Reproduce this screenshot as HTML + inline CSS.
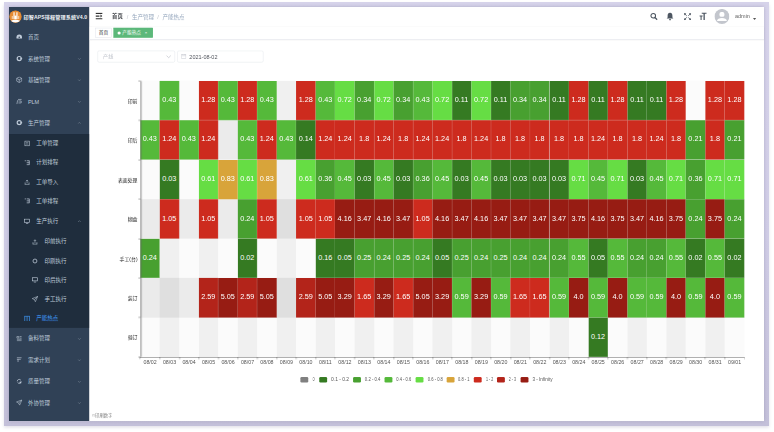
<!DOCTYPE html>
<html lang="zh-CN"><head><meta charset="utf-8"><title>产能热点</title>
<style>
html,body{margin:0;padding:0;background:#fff;}
body{width:774px;height:432px;overflow:hidden;position:relative;font-family:"Liberation Sans","Noto Sans CJK SC",sans-serif;}
#frame{position:absolute;left:4.1px;top:2.2px;width:764.8px;height:423.6px;background:linear-gradient(180deg,#d6d3ea 0%,#cfcce5 55%,#c3c0d9 100%);box-shadow:0 1.5px 3px rgba(120,115,150,.22);filter:blur(0.5px);}
#stage{position:absolute;left:8.75px;top:7.0px;width:1920px;height:1053px;transform:scale(0.39323);transform-origin:0 0;background:#fff;overflow:hidden;color:#303133;font-size:14px;box-shadow:0 0 9px rgba(75,70,105,.36);}
#stage *{box-sizing:border-box;}
#soft{position:absolute;left:0;top:0;width:774px;height:432px;filter:blur(0.4px);}
.abs{position:absolute;}
#side{position:absolute;left:0;top:0;width:203.5px;overflow:hidden;height:1053px;background:#304156;}
#logo{position:absolute;left:0;top:0;width:205px;height:50px;background:#304156;}
#logo .img{position:absolute;left:0.5px;top:9px;width:31px;height:31px;border-radius:50%;background:#e58a32;overflow:hidden;}
#logo .t{position:absolute;left:37px;top:0;line-height:53.5px;color:#eef1f5;font-weight:bold;font-size:13px;white-space:nowrap;letter-spacing:0.3px;}
.mi{position:absolute;left:0;width:205px;color:#bfcbd9;font-size:14px;white-space:nowrap;}
.mi .ic{position:absolute;top:50%;width:16px;height:16px;margin-top:-8px;}
.mi .tx{position:absolute;top:0;}
.mi .ch{position:absolute;right:21px;top:50%;width:10px;height:10px;margin-top:-5px;}
.l1{height:54.5px;line-height:54.5px;}
.l1 .ic{left:17.5px;margin-top:-9px;} .l1 .tx{left:48px;}
.l2{height:49.1px;line-height:49.1px;}
.l2 .ic{left:38px;} .l2 .tx{left:69px;}
.l3{height:49.1px;line-height:49.1px;}
.l3 .ic{left:58px;} .l3 .tx{left:90px;}
#sub{position:absolute;left:0;width:205px;background:#1f2d3d;}
.act{color:#409eff;}
#nav{position:absolute;left:205px;top:0;width:1715px;height:50px;background:#fff;box-shadow:0 1px 4px rgba(0,21,41,.08);}
#tags{position:absolute;left:205px;top:50px;width:1715px;height:33.5px;background:#fff;border-bottom:1px solid #cdd1dc;box-shadow:0 1px 3px 0 rgba(0,0,0,.14),0 0 3px 0 rgba(0,0,0,.04);}
.tag{position:absolute;top:2.9px;height:25.6px;line-height:23.6px;border:1px solid #d8dce5;color:#2b2f36;background:#fff;padding:0 8px;font-size:12px;white-space:nowrap;}
.tag.on{background:#5cb87a;color:#fff;border-color:#5cb87a;}
.bc{position:absolute;top:0;line-height:50px;font-size:14px;white-space:nowrap;}
.inp{position:absolute;height:30.5px;border:1px solid #dcdfe6;border-radius:4px;background:#fff;font-size:13px;line-height:28.5px;color:#606266;white-space:nowrap;}
.cell{position:absolute;color:#fff;font-size:18.5px;text-align:center;white-space:nowrap;overflow:hidden;border-right:1px solid rgba(255,255,255,.25);border-bottom:1px solid rgba(255,255,255,.25);}
.band{position:absolute;}
.yl{position:absolute;text-align:right;font-size:12.5px;color:#222;white-space:nowrap;width:120px;}
.xl{position:absolute;text-align:center;font-size:13.4px;color:#555;white-space:nowrap;}
.lg{position:absolute;height:14px;width:20px;border-radius:3px;}
.lt{position:absolute;font-size:12px;color:#333;white-space:nowrap;line-height:14px;}
</style></head><body>
<div id="frame"></div>
<div id="soft">
<div id="stage">
<div id="side">
<div id="logo"><div class="img"><svg width="31" height="31" viewBox="0 0 36 36"><circle cx="18" cy="18" r="18" fill="#e58a32"/><path d="M3 31 Q18 22 33 31 L33 36 L3 36 Z" fill="#fff"/><rect x="12" y="5" width="3.4" height="20" fill="#fff"/><rect x="20.6" y="5" width="3.4" height="20" fill="#fff"/><rect x="15" y="15" width="6" height="10" fill="#fff"/><rect x="7" y="16" width="3" height="9" fill="#f7d9b5"/><rect x="26" y="16" width="3" height="9" fill="#f7d9b5"/></svg></div><div class="t">印智APS排程管理系统V4.0</div></div>
<div class="mi l1" style="top:50.00px;height:54.50px;line-height:54.50px"><svg class="ic" viewBox="0 0 16 16"><path d="M1 9 A7 7 0 0 1 15 9 L15 12 L1 12 Z" fill="#bfcbd9"/><circle cx="8" cy="9" r="2" fill="#304156"/></svg><span class="tx">首页</span></div>
<div class="mi l1" style="top:104.50px;height:54.50px;line-height:54.50px"><svg class="ic" viewBox="0 0 16 16"><circle cx="8" cy="8" r="5.2" fill="none" stroke="#bfcbd9" stroke-width="3"/><rect x="11" y="6.5" width="5" height="3" fill="#bfcbd9"/></svg><span class="tx">系统管理</span><svg class="ch" viewBox="0 0 10 10"><path d="M1.5 3.2 L5 6.8 L8.5 3.2" fill="none" stroke="#8b97a6" stroke-width="1.1"/></svg></div>
<div class="mi l1" style="top:159.00px;height:54.50px;line-height:54.50px"><svg class="ic" viewBox="0 0 16 16"><path d="M8 1 L14.5 4.5 L14.5 11.5 L8 15 L1.5 11.5 L1.5 4.5 Z M1.5 4.5 L8 8 L14.5 4.5 M8 8 L8 15" fill="none" stroke="#bfcbd9" stroke-width="1.5"/></svg><span class="tx">基础管理</span><svg class="ch" viewBox="0 0 10 10"><path d="M1.5 3.2 L5 6.8 L8.5 3.2" fill="none" stroke="#8b97a6" stroke-width="1.1"/></svg></div>
<div class="mi l1" style="top:213.50px;height:54.50px;line-height:54.50px"><svg class="ic" viewBox="0 0 16 16"><path d="M2 15 L4 5 M5 3 L14 3 M6 7 L13 7 L13 12 L6 12" fill="none" stroke="#bfcbd9" stroke-width="1.6"/></svg><span class="tx">PLM</span><svg class="ch" viewBox="0 0 10 10"><path d="M1.5 3.2 L5 6.8 L8.5 3.2" fill="none" stroke="#8b97a6" stroke-width="1.1"/></svg></div>
<div class="mi l1" style="top:268.00px;height:54.50px;line-height:54.50px"><svg class="ic" viewBox="0 0 16 16"><circle cx="8" cy="8" r="5.2" fill="none" stroke="#bfcbd9" stroke-width="3"/><rect x="11" y="6.5" width="5" height="3" fill="#bfcbd9"/></svg><span class="tx">生产管理</span><svg class="ch" viewBox="0 0 10 10"><path d="M1.5 6.8 L5 3.2 L8.5 6.8" fill="none" stroke="#8b97a6" stroke-width="1.1"/></svg></div>
<div id="sub" style="top:322.50px;height:493.97px"></div>
<div class="mi l2" style="top:322.50px;height:48.83px;line-height:48.83px"><svg class="ic" viewBox="0 0 16 16"><rect x="2.5" y="2" width="11" height="12" fill="none" stroke="#bfcbd9" stroke-width="1.5"/><path d="M5 6 H11 M5 9.5 H11" stroke="#bfcbd9" stroke-width="1.3"/></svg><span class="tx">工单管理</span></div>
<div class="mi l2" style="top:371.33px;height:48.83px;line-height:48.83px"><svg class="ic" viewBox="0 0 16 16"><path d="M2 3 H5 M7 3 H14 M7 8 H14 M7 13 H14 M13.5 3 V13" fill="none" stroke="#bfcbd9" stroke-width="1.8"/></svg><span class="tx">计划排程</span></div>
<div class="mi l2" style="top:420.16px;height:48.83px;line-height:48.83px"><svg class="ic" viewBox="0 0 16 16"><path d="M2 14 H14 M3 14 V9 M13 14 V9 M8 11 V3 M5 6 L8 3 L11 6" fill="none" stroke="#bfcbd9" stroke-width="1.4"/></svg><span class="tx">工单导入</span></div>
<div class="mi l2" style="top:468.99px;height:48.83px;line-height:48.83px"><svg class="ic" viewBox="0 0 16 16"><path d="M2 3 H5 M7 3 H14 M7 8 H14 M7 13 H14 M13.5 3 V13" fill="none" stroke="#bfcbd9" stroke-width="1.8"/></svg><span class="tx">工单排程</span></div>
<div class="mi l2" style="top:517.82px;height:54.50px;line-height:54.50px"><svg class="ic" viewBox="0 0 16 16"><rect x="1.5" y="2.5" width="13" height="8" fill="none" stroke="#bfcbd9" stroke-width="1.6"/><path d="M5 13.5 H11" stroke="#bfcbd9" stroke-width="1.6"/></svg><span class="tx">生产执行</span><svg class="ch" viewBox="0 0 10 10"><path d="M1.5 6.8 L5 3.2 L8.5 6.8" fill="none" stroke="#8b97a6" stroke-width="1.1"/></svg></div>
<div class="mi l3" style="top:572.32px;height:48.83px;line-height:48.83px"><svg class="ic" viewBox="0 0 16 16"><path d="M2 14 H14 M3 14 V9 M13 14 V9 M8 11 V3 M5 6 L8 3 L11 6" fill="none" stroke="#bfcbd9" stroke-width="1.4"/></svg><span class="tx">印前执行</span></div>
<div class="mi l3" style="top:621.15px;height:48.83px;line-height:48.83px"><svg class="ic" viewBox="0 0 16 16"><circle cx="8" cy="8" r="5" fill="none" stroke="#bfcbd9" stroke-width="2"/></svg><span class="tx">印刷执行</span></div>
<div class="mi l3" style="top:669.98px;height:48.83px;line-height:48.83px"><svg class="ic" viewBox="0 0 16 16"><rect x="1.5" y="2.5" width="13" height="8" fill="none" stroke="#bfcbd9" stroke-width="1.6"/><path d="M5 13.5 H11" stroke="#bfcbd9" stroke-width="1.6"/></svg><span class="tx">印后执行</span></div>
<div class="mi l3" style="top:718.81px;height:48.83px;line-height:48.83px"><svg class="ic" viewBox="0 0 16 16"><path d="M15 1 L1 6.5 L6.5 9 L9 14.5 Z M6.5 9 L15 1" fill="none" stroke="#bfcbd9" stroke-width="1.4"/></svg><span class="tx">手工执行</span></div>
<div class="mi l2 act" style="top:767.64px;height:48.83px;line-height:48.83px"><svg class="ic" viewBox="0 0 16 16"><path d="M1 2.5 H15 M2 2.5 V14.5 M8 2.5 V14.5 M14 2.5 V14.5" fill="none" stroke="#409eff" stroke-width="1.7"/></svg><span class="tx">产能热点</span></div>
<div class="mi l1" style="top:816.47px;height:54.50px;line-height:54.50px"><svg class="ic" viewBox="0 0 16 16"><path d="M2 3 H7 V7 H2 Z M9 3 H14 M9 7 H14 M2 10 H14 M2 13.5 H14" fill="none" stroke="#bfcbd9" stroke-width="1.4"/></svg><span class="tx">备料管理</span><svg class="ch" viewBox="0 0 10 10"><path d="M1.5 3.2 L5 6.8 L8.5 3.2" fill="none" stroke="#8b97a6" stroke-width="1.1"/></svg></div>
<div class="mi l1" style="top:870.97px;height:54.50px;line-height:54.50px"><svg class="ic" viewBox="0 0 16 16"><path d="M2 3 H14 M2 7 H12 M5 7 V14" fill="none" stroke="#bfcbd9" stroke-width="1.6"/></svg><span class="tx">需求计划</span><svg class="ch" viewBox="0 0 10 10"><path d="M1.5 3.2 L5 6.8 L8.5 3.2" fill="none" stroke="#8b97a6" stroke-width="1.1"/></svg></div>
<div class="mi l1" style="top:925.47px;height:54.50px;line-height:54.50px"><svg class="ic" viewBox="0 0 16 16"><path d="M3 8 A5 5 0 0 1 12 5 M13 8 A5 5 0 0 1 4 11" fill="none" stroke="#bfcbd9" stroke-width="2"/><rect x="9" y="9" width="4" height="4" fill="#bfcbd9"/></svg><span class="tx">质量管理</span><svg class="ch" viewBox="0 0 10 10"><path d="M1.5 3.2 L5 6.8 L8.5 3.2" fill="none" stroke="#8b97a6" stroke-width="1.1"/></svg></div>
<div class="mi l1" style="top:979.97px;height:54.50px;line-height:54.50px"><svg class="ic" viewBox="0 0 16 16"><path d="M15 1 L1 6.5 L6.5 9 L9 14.5 Z M6.5 9 L15 1" fill="none" stroke="#bfcbd9" stroke-width="1.4"/></svg><span class="tx">外协管理</span><svg class="ch" viewBox="0 0 10 10"><path d="M1.5 3.2 L5 6.8 L8.5 3.2" fill="none" stroke="#8b97a6" stroke-width="1.1"/></svg></div>
</div>
<div id="nav">
<svg class="abs" style="left:14.9px;top:14px" width="18" height="18" viewBox="0 0 18 18"><path d="M0 2 H18 M0 9 H10 M0 16 H18" stroke="#333" stroke-width="3.2"/><path d="M12.5 5.2 L17.5 9 L12.5 12.8 Z" fill="#333"/></svg>
<span class="bc" style="left:57.1px;color:#3a3d42;font-weight:bold;font-size:13.6px">首页</span><span class="bc" style="left:94.7px;color:#c0c4cc">/</span><span class="bc" style="left:107.7px;color:#97a8be">生产管理</span><span class="bc" style="left:172.0px;color:#c0c4cc">/</span><span class="bc" style="left:185.5px;color:#97a8be">产能热点</span>
<svg class="abs" style="left:1425.4px;top:14.0px" width="20" height="20" viewBox="0 0 18 18"><circle cx="7.5" cy="7.5" r="5.3" fill="none" stroke="#4d5661" stroke-width="2.4"/><path d="M11.5 11.5 L16.5 16.5" stroke="#4d5661" stroke-width="2.8"/></svg>
<svg class="abs" style="left:1465.3px;top:13.0px" width="22" height="22" viewBox="0 0 18 18"><path d="M9 1.5 C5 1.5 4 5 4 8 L4 11 L2 13.5 H16 L14 11 L14 8 C14 5 13 1.5 9 1.5 Z" fill="#4d5661"/><circle cx="9" cy="15.5" r="1.8" fill="#4d5661"/></svg>
<svg class="abs" style="left:1511.1px;top:14.5px" width="19" height="19" viewBox="0 0 18 18"><path d="M1 6 V1 H6 M12 1 H17 V6 M17 12 V17 H12 M6 17 H1 V12" fill="none" stroke="#4d5661" stroke-width="0"/><path d="M1.5 1.5 L7 7 M16.5 1.5 L11 7 M1.5 16.5 L7 11 M16.5 16.5 L11 11" stroke="#4d5661" stroke-width="2.2"/><path d="M1 1 H6 L1 6 Z M17 1 V6 L12 1 Z M1 17 V12 L6 17 Z M17 17 H12 L17 12 Z" fill="#4d5661"/></svg>
<svg class="abs" style="left:1549.5px;top:13.5px" width="20" height="20" viewBox="0 0 18 18"><path d="M6 1.5 H17 M11.5 1.5 V17" stroke="#4d5661" stroke-width="3"/><path d="M1 8 H8 M4.5 8 V17" stroke="#4d5661" stroke-width="2.4"/></svg>
<svg class="abs" style="left:1588.8px;top:4.5px" width="38" height="38" viewBox="0 0 36 36"><circle cx="18" cy="18" r="18" fill="#c3c6cd"/><rect x="12" y="7.5" width="12" height="11.5" rx="4.5" fill="#fff"/><path d="M6 29 C6 19.5 30 19.5 30 29 Z" fill="#fff"/></svg>
<span class="abs" style="left:1641.1px;top:0;line-height:48px;font-size:14px;color:#666">admin</span><svg class="abs" style="left:1687.0px;top:27.5px" width="8" height="5" viewBox="0 0 8 5"><path d="M0 0 H8 L4 5 Z" fill="#555"/></svg>
</div>
<div id="tags">
<span class="tag" style="left:15.1px;width:40.9px;padding:0;text-align:center">首页</span><span class="tag on" style="left:60.9px;width:100.2px;padding:0"><i style="position:absolute;left:9px;top:8px;width:8px;height:8px;border-radius:50%;background:#fff"></i><span style="position:absolute;left:21px;top:0">产能热点</span><span style="position:absolute;right:13.5px;top:0.5px;font-size:11px">×</span></span>
</div>
<div class="inp" style="left:225.2px;top:110.6px;width:197.3px;height:30.5px;line-height:28.5px"><span style="position:absolute;left:13px;color:#c0c4cc">产线</span><svg class="abs" style="right:8px;top:8.3px" width="14" height="12" viewBox="0 0 14 12"><path d="M1.5 3.5 L7 9 L12.5 3.5" fill="none" stroke="#b4b8c0" stroke-width="1.5"/></svg></div>
<div class="inp" style="left:427.6px;top:110.6px;width:219.7px;height:30.5px;line-height:28.5px"><svg class="abs" style="left:9px;top:7.8px" width="13" height="13" viewBox="0 0 13 13"><rect x="1" y="2" width="11" height="10" fill="none" stroke="#c0c4cc" stroke-width="1.2"/><path d="M1 5 H12 M4 0.5 V3 M9 0.5 V3" stroke="#c0c4cc" stroke-width="1.2"/></svg><span style="position:absolute;left:30px;font-size:14px;color:#50545c">2021-08-02</span></div>
<div id="chart">
<div class="band" style="left:333.90px;top:187.68px;width:49.55px;height:702.39px;background:rgba(250,250,250,0.3)"></div><div class="band" style="left:383.45px;top:187.68px;width:49.55px;height:702.39px;background:rgba(200,200,200,0.34)"></div><div class="band" style="left:433.01px;top:187.68px;width:49.55px;height:702.39px;background:rgba(250,250,250,0.3)"></div><div class="band" style="left:482.56px;top:187.68px;width:49.55px;height:702.39px;background:rgba(200,200,200,0.34)"></div><div class="band" style="left:532.11px;top:187.68px;width:49.55px;height:702.39px;background:rgba(250,250,250,0.3)"></div><div class="band" style="left:581.66px;top:187.68px;width:49.55px;height:702.39px;background:rgba(200,200,200,0.34)"></div><div class="band" style="left:631.22px;top:187.68px;width:49.55px;height:702.39px;background:rgba(250,250,250,0.3)"></div><div class="band" style="left:680.77px;top:187.68px;width:49.55px;height:702.39px;background:rgba(200,200,200,0.34)"></div><div class="band" style="left:730.32px;top:187.68px;width:49.55px;height:702.39px;background:rgba(250,250,250,0.3)"></div><div class="band" style="left:779.87px;top:187.68px;width:49.55px;height:702.39px;background:rgba(200,200,200,0.34)"></div><div class="band" style="left:829.43px;top:187.68px;width:49.55px;height:702.39px;background:rgba(250,250,250,0.3)"></div><div class="band" style="left:878.98px;top:187.68px;width:49.55px;height:702.39px;background:rgba(200,200,200,0.34)"></div><div class="band" style="left:928.53px;top:187.68px;width:49.55px;height:702.39px;background:rgba(250,250,250,0.3)"></div><div class="band" style="left:978.08px;top:187.68px;width:49.55px;height:702.39px;background:rgba(200,200,200,0.34)"></div><div class="band" style="left:1027.63px;top:187.68px;width:49.55px;height:702.39px;background:rgba(250,250,250,0.3)"></div><div class="band" style="left:1077.19px;top:187.68px;width:49.55px;height:702.39px;background:rgba(200,200,200,0.34)"></div><div class="band" style="left:1126.74px;top:187.68px;width:49.55px;height:702.39px;background:rgba(250,250,250,0.3)"></div><div class="band" style="left:1176.29px;top:187.68px;width:49.55px;height:702.39px;background:rgba(200,200,200,0.34)"></div><div class="band" style="left:1225.84px;top:187.68px;width:49.55px;height:702.39px;background:rgba(250,250,250,0.3)"></div><div class="band" style="left:1275.40px;top:187.68px;width:49.55px;height:702.39px;background:rgba(200,200,200,0.34)"></div><div class="band" style="left:1324.95px;top:187.68px;width:49.55px;height:702.39px;background:rgba(250,250,250,0.3)"></div><div class="band" style="left:1374.50px;top:187.68px;width:49.55px;height:702.39px;background:rgba(200,200,200,0.34)"></div><div class="band" style="left:1424.05px;top:187.68px;width:49.55px;height:702.39px;background:rgba(250,250,250,0.3)"></div><div class="band" style="left:1473.61px;top:187.68px;width:49.55px;height:702.39px;background:rgba(200,200,200,0.34)"></div><div class="band" style="left:1523.16px;top:187.68px;width:49.55px;height:702.39px;background:rgba(250,250,250,0.3)"></div><div class="band" style="left:1572.71px;top:187.68px;width:49.55px;height:702.39px;background:rgba(200,200,200,0.34)"></div><div class="band" style="left:1622.26px;top:187.68px;width:49.55px;height:702.39px;background:rgba(250,250,250,0.3)"></div><div class="band" style="left:1671.82px;top:187.68px;width:49.55px;height:702.39px;background:rgba(200,200,200,0.34)"></div><div class="band" style="left:1721.37px;top:187.68px;width:49.55px;height:702.39px;background:rgba(250,250,250,0.3)"></div><div class="band" style="left:1770.92px;top:187.68px;width:49.55px;height:702.39px;background:rgba(200,200,200,0.34)"></div><div class="band" style="left:1820.47px;top:187.68px;width:49.55px;height:702.39px;background:rgba(250,250,250,0.3)"></div>
<div class="band" style="left:333.90px;top:187.68px;width:1536.12px;height:100.34px;background:rgba(250,250,250,0.3)"></div><div class="band" style="left:333.90px;top:288.02px;width:1536.12px;height:100.34px;background:rgba(200,200,200,0.34)"></div><div class="band" style="left:333.90px;top:388.36px;width:1536.12px;height:100.34px;background:rgba(250,250,250,0.3)"></div><div class="band" style="left:333.90px;top:488.70px;width:1536.12px;height:100.34px;background:rgba(200,200,200,0.34)"></div><div class="band" style="left:333.90px;top:589.04px;width:1536.12px;height:100.34px;background:rgba(250,250,250,0.3)"></div><div class="band" style="left:333.90px;top:689.38px;width:1536.12px;height:100.34px;background:rgba(200,200,200,0.34)"></div><div class="band" style="left:333.90px;top:789.72px;width:1536.12px;height:100.34px;background:rgba(250,250,250,0.3)"></div>
<div class="cell" style="left:383.45px;top:187.68px;width:49.55px;height:100.34px;line-height:96.34px;background:#55b93a">0.43</div><div class="cell" style="left:482.56px;top:187.68px;width:49.55px;height:100.34px;line-height:96.34px;background:#cd2b1e">1.28</div><div class="cell" style="left:532.11px;top:187.68px;width:49.55px;height:100.34px;line-height:96.34px;background:#55b93a">0.43</div><div class="cell" style="left:581.66px;top:187.68px;width:49.55px;height:100.34px;line-height:96.34px;background:#cd2b1e">1.28</div><div class="cell" style="left:631.22px;top:187.68px;width:49.55px;height:100.34px;line-height:96.34px;background:#55b93a">0.43</div><div class="cell" style="left:730.32px;top:187.68px;width:49.55px;height:100.34px;line-height:96.34px;background:#cd2b1e">1.28</div><div class="cell" style="left:779.87px;top:187.68px;width:49.55px;height:100.34px;line-height:96.34px;background:#55b93a">0.43</div><div class="cell" style="left:829.43px;top:187.68px;width:49.55px;height:100.34px;line-height:96.34px;background:#66dd44">0.72</div><div class="cell" style="left:878.98px;top:187.68px;width:49.55px;height:100.34px;line-height:96.34px;background:#48a030">0.34</div><div class="cell" style="left:928.53px;top:187.68px;width:49.55px;height:100.34px;line-height:96.34px;background:#66dd44">0.72</div><div class="cell" style="left:978.08px;top:187.68px;width:49.55px;height:100.34px;line-height:96.34px;background:#48a030">0.34</div><div class="cell" style="left:1027.63px;top:187.68px;width:49.55px;height:100.34px;line-height:96.34px;background:#55b93a">0.43</div><div class="cell" style="left:1077.19px;top:187.68px;width:49.55px;height:100.34px;line-height:96.34px;background:#66dd44">0.72</div><div class="cell" style="left:1126.74px;top:187.68px;width:49.55px;height:100.34px;line-height:96.34px;background:#357a22">0.11</div><div class="cell" style="left:1176.29px;top:187.68px;width:49.55px;height:100.34px;line-height:96.34px;background:#66dd44">0.72</div><div class="cell" style="left:1225.84px;top:187.68px;width:49.55px;height:100.34px;line-height:96.34px;background:#357a22">0.11</div><div class="cell" style="left:1275.40px;top:187.68px;width:49.55px;height:100.34px;line-height:96.34px;background:#48a030">0.34</div><div class="cell" style="left:1324.95px;top:187.68px;width:49.55px;height:100.34px;line-height:96.34px;background:#48a030">0.34</div><div class="cell" style="left:1374.50px;top:187.68px;width:49.55px;height:100.34px;line-height:96.34px;background:#357a22">0.11</div><div class="cell" style="left:1424.05px;top:187.68px;width:49.55px;height:100.34px;line-height:96.34px;background:#cd2b1e">1.28</div><div class="cell" style="left:1473.61px;top:187.68px;width:49.55px;height:100.34px;line-height:96.34px;background:#357a22">0.11</div><div class="cell" style="left:1523.16px;top:187.68px;width:49.55px;height:100.34px;line-height:96.34px;background:#cd2b1e">1.28</div><div class="cell" style="left:1572.71px;top:187.68px;width:49.55px;height:100.34px;line-height:96.34px;background:#357a22">0.11</div><div class="cell" style="left:1622.26px;top:187.68px;width:49.55px;height:100.34px;line-height:96.34px;background:#357a22">0.11</div><div class="cell" style="left:1671.82px;top:187.68px;width:49.55px;height:100.34px;line-height:96.34px;background:#cd2b1e">1.28</div><div class="cell" style="left:1770.92px;top:187.68px;width:49.55px;height:100.34px;line-height:96.34px;background:#cd2b1e">1.28</div><div class="cell" style="left:1820.47px;top:187.68px;width:49.55px;height:100.34px;line-height:96.34px;background:#cd2b1e">1.28</div>
<div class="cell" style="left:333.90px;top:288.02px;width:49.55px;height:100.34px;line-height:96.34px;background:#55b93a">0.43</div><div class="cell" style="left:383.45px;top:288.02px;width:49.55px;height:100.34px;line-height:96.34px;background:#cd2b1e">1.24</div><div class="cell" style="left:433.01px;top:288.02px;width:49.55px;height:100.34px;line-height:96.34px;background:#55b93a">0.43</div><div class="cell" style="left:482.56px;top:288.02px;width:49.55px;height:100.34px;line-height:96.34px;background:#cd2b1e">1.24</div><div class="cell" style="left:581.66px;top:288.02px;width:49.55px;height:100.34px;line-height:96.34px;background:#55b93a">0.43</div><div class="cell" style="left:631.22px;top:288.02px;width:49.55px;height:100.34px;line-height:96.34px;background:#cd2b1e">1.24</div><div class="cell" style="left:680.77px;top:288.02px;width:49.55px;height:100.34px;line-height:96.34px;background:#55b93a">0.43</div><div class="cell" style="left:730.32px;top:288.02px;width:49.55px;height:100.34px;line-height:96.34px;background:#357a22">0.14</div><div class="cell" style="left:779.87px;top:288.02px;width:49.55px;height:100.34px;line-height:96.34px;background:#cd2b1e">1.24</div><div class="cell" style="left:829.43px;top:288.02px;width:49.55px;height:100.34px;line-height:96.34px;background:#cd2b1e">1.24</div><div class="cell" style="left:878.98px;top:288.02px;width:49.55px;height:100.34px;line-height:96.34px;background:#cd2b1e">1.8</div><div class="cell" style="left:928.53px;top:288.02px;width:49.55px;height:100.34px;line-height:96.34px;background:#cd2b1e">1.24</div><div class="cell" style="left:978.08px;top:288.02px;width:49.55px;height:100.34px;line-height:96.34px;background:#cd2b1e">1.8</div><div class="cell" style="left:1027.63px;top:288.02px;width:49.55px;height:100.34px;line-height:96.34px;background:#cd2b1e">1.24</div><div class="cell" style="left:1077.19px;top:288.02px;width:49.55px;height:100.34px;line-height:96.34px;background:#cd2b1e">1.24</div><div class="cell" style="left:1126.74px;top:288.02px;width:49.55px;height:100.34px;line-height:96.34px;background:#cd2b1e">1.8</div><div class="cell" style="left:1176.29px;top:288.02px;width:49.55px;height:100.34px;line-height:96.34px;background:#cd2b1e">1.24</div><div class="cell" style="left:1225.84px;top:288.02px;width:49.55px;height:100.34px;line-height:96.34px;background:#cd2b1e">1.8</div><div class="cell" style="left:1275.40px;top:288.02px;width:49.55px;height:100.34px;line-height:96.34px;background:#cd2b1e">1.8</div><div class="cell" style="left:1324.95px;top:288.02px;width:49.55px;height:100.34px;line-height:96.34px;background:#cd2b1e">1.8</div><div class="cell" style="left:1374.50px;top:288.02px;width:49.55px;height:100.34px;line-height:96.34px;background:#cd2b1e">1.8</div><div class="cell" style="left:1424.05px;top:288.02px;width:49.55px;height:100.34px;line-height:96.34px;background:#cd2b1e">1.8</div><div class="cell" style="left:1473.61px;top:288.02px;width:49.55px;height:100.34px;line-height:96.34px;background:#cd2b1e">1.24</div><div class="cell" style="left:1523.16px;top:288.02px;width:49.55px;height:100.34px;line-height:96.34px;background:#cd2b1e">1.8</div><div class="cell" style="left:1572.71px;top:288.02px;width:49.55px;height:100.34px;line-height:96.34px;background:#cd2b1e">1.8</div><div class="cell" style="left:1622.26px;top:288.02px;width:49.55px;height:100.34px;line-height:96.34px;background:#cd2b1e">1.24</div><div class="cell" style="left:1671.82px;top:288.02px;width:49.55px;height:100.34px;line-height:96.34px;background:#cd2b1e">1.8</div><div class="cell" style="left:1721.37px;top:288.02px;width:49.55px;height:100.34px;line-height:96.34px;background:#48a030">0.21</div><div class="cell" style="left:1770.92px;top:288.02px;width:49.55px;height:100.34px;line-height:96.34px;background:#cd2b1e">1.8</div><div class="cell" style="left:1820.47px;top:288.02px;width:49.55px;height:100.34px;line-height:96.34px;background:#48a030">0.21</div>
<div class="cell" style="left:383.45px;top:388.36px;width:49.55px;height:100.34px;line-height:96.34px;background:#357a22">0.03</div><div class="cell" style="left:482.56px;top:388.36px;width:49.55px;height:100.34px;line-height:96.34px;background:#66dd44">0.61</div><div class="cell" style="left:532.11px;top:388.36px;width:49.55px;height:100.34px;line-height:96.34px;background:#d8a43a">0.83</div><div class="cell" style="left:581.66px;top:388.36px;width:49.55px;height:100.34px;line-height:96.34px;background:#66dd44">0.61</div><div class="cell" style="left:631.22px;top:388.36px;width:49.55px;height:100.34px;line-height:96.34px;background:#d8a43a">0.83</div><div class="cell" style="left:730.32px;top:388.36px;width:49.55px;height:100.34px;line-height:96.34px;background:#66dd44">0.61</div><div class="cell" style="left:779.87px;top:388.36px;width:49.55px;height:100.34px;line-height:96.34px;background:#48a030">0.36</div><div class="cell" style="left:829.43px;top:388.36px;width:49.55px;height:100.34px;line-height:96.34px;background:#55b93a">0.45</div><div class="cell" style="left:878.98px;top:388.36px;width:49.55px;height:100.34px;line-height:96.34px;background:#357a22">0.03</div><div class="cell" style="left:928.53px;top:388.36px;width:49.55px;height:100.34px;line-height:96.34px;background:#55b93a">0.45</div><div class="cell" style="left:978.08px;top:388.36px;width:49.55px;height:100.34px;line-height:96.34px;background:#357a22">0.03</div><div class="cell" style="left:1027.63px;top:388.36px;width:49.55px;height:100.34px;line-height:96.34px;background:#48a030">0.36</div><div class="cell" style="left:1077.19px;top:388.36px;width:49.55px;height:100.34px;line-height:96.34px;background:#55b93a">0.45</div><div class="cell" style="left:1126.74px;top:388.36px;width:49.55px;height:100.34px;line-height:96.34px;background:#357a22">0.03</div><div class="cell" style="left:1176.29px;top:388.36px;width:49.55px;height:100.34px;line-height:96.34px;background:#55b93a">0.45</div><div class="cell" style="left:1225.84px;top:388.36px;width:49.55px;height:100.34px;line-height:96.34px;background:#357a22">0.03</div><div class="cell" style="left:1275.40px;top:388.36px;width:49.55px;height:100.34px;line-height:96.34px;background:#357a22">0.03</div><div class="cell" style="left:1324.95px;top:388.36px;width:49.55px;height:100.34px;line-height:96.34px;background:#357a22">0.03</div><div class="cell" style="left:1374.50px;top:388.36px;width:49.55px;height:100.34px;line-height:96.34px;background:#357a22">0.03</div><div class="cell" style="left:1424.05px;top:388.36px;width:49.55px;height:100.34px;line-height:96.34px;background:#66dd44">0.71</div><div class="cell" style="left:1473.61px;top:388.36px;width:49.55px;height:100.34px;line-height:96.34px;background:#55b93a">0.45</div><div class="cell" style="left:1523.16px;top:388.36px;width:49.55px;height:100.34px;line-height:96.34px;background:#66dd44">0.71</div><div class="cell" style="left:1572.71px;top:388.36px;width:49.55px;height:100.34px;line-height:96.34px;background:#357a22">0.03</div><div class="cell" style="left:1622.26px;top:388.36px;width:49.55px;height:100.34px;line-height:96.34px;background:#55b93a">0.45</div><div class="cell" style="left:1671.82px;top:388.36px;width:49.55px;height:100.34px;line-height:96.34px;background:#66dd44">0.71</div><div class="cell" style="left:1721.37px;top:388.36px;width:49.55px;height:100.34px;line-height:96.34px;background:#48a030">0.36</div><div class="cell" style="left:1770.92px;top:388.36px;width:49.55px;height:100.34px;line-height:96.34px;background:#66dd44">0.71</div><div class="cell" style="left:1820.47px;top:388.36px;width:49.55px;height:100.34px;line-height:96.34px;background:#66dd44">0.71</div>
<div class="cell" style="left:383.45px;top:488.70px;width:49.55px;height:100.34px;line-height:96.34px;background:#cd2b1e">1.05</div><div class="cell" style="left:482.56px;top:488.70px;width:49.55px;height:100.34px;line-height:96.34px;background:#cd2b1e">1.05</div><div class="cell" style="left:581.66px;top:488.70px;width:49.55px;height:100.34px;line-height:96.34px;background:#48a030">0.24</div><div class="cell" style="left:631.22px;top:488.70px;width:49.55px;height:100.34px;line-height:96.34px;background:#cd2b1e">1.05</div><div class="cell" style="left:730.32px;top:488.70px;width:49.55px;height:100.34px;line-height:96.34px;background:#cd2b1e">1.05</div><div class="cell" style="left:779.87px;top:488.70px;width:49.55px;height:100.34px;line-height:96.34px;background:#cd2b1e">1.05</div><div class="cell" style="left:829.43px;top:488.70px;width:49.55px;height:100.34px;line-height:96.34px;background:#971c13">4.16</div><div class="cell" style="left:878.98px;top:488.70px;width:49.55px;height:100.34px;line-height:96.34px;background:#971c13">3.47</div><div class="cell" style="left:928.53px;top:488.70px;width:49.55px;height:100.34px;line-height:96.34px;background:#971c13">4.16</div><div class="cell" style="left:978.08px;top:488.70px;width:49.55px;height:100.34px;line-height:96.34px;background:#971c13">3.47</div><div class="cell" style="left:1027.63px;top:488.70px;width:49.55px;height:100.34px;line-height:96.34px;background:#cd2b1e">1.05</div><div class="cell" style="left:1077.19px;top:488.70px;width:49.55px;height:100.34px;line-height:96.34px;background:#971c13">4.16</div><div class="cell" style="left:1126.74px;top:488.70px;width:49.55px;height:100.34px;line-height:96.34px;background:#971c13">3.47</div><div class="cell" style="left:1176.29px;top:488.70px;width:49.55px;height:100.34px;line-height:96.34px;background:#971c13">4.16</div><div class="cell" style="left:1225.84px;top:488.70px;width:49.55px;height:100.34px;line-height:96.34px;background:#971c13">3.47</div><div class="cell" style="left:1275.40px;top:488.70px;width:49.55px;height:100.34px;line-height:96.34px;background:#971c13">3.47</div><div class="cell" style="left:1324.95px;top:488.70px;width:49.55px;height:100.34px;line-height:96.34px;background:#971c13">3.47</div><div class="cell" style="left:1374.50px;top:488.70px;width:49.55px;height:100.34px;line-height:96.34px;background:#971c13">3.47</div><div class="cell" style="left:1424.05px;top:488.70px;width:49.55px;height:100.34px;line-height:96.34px;background:#971c13">3.75</div><div class="cell" style="left:1473.61px;top:488.70px;width:49.55px;height:100.34px;line-height:96.34px;background:#971c13">4.16</div><div class="cell" style="left:1523.16px;top:488.70px;width:49.55px;height:100.34px;line-height:96.34px;background:#971c13">3.75</div><div class="cell" style="left:1572.71px;top:488.70px;width:49.55px;height:100.34px;line-height:96.34px;background:#971c13">3.47</div><div class="cell" style="left:1622.26px;top:488.70px;width:49.55px;height:100.34px;line-height:96.34px;background:#971c13">4.16</div><div class="cell" style="left:1671.82px;top:488.70px;width:49.55px;height:100.34px;line-height:96.34px;background:#971c13">3.75</div><div class="cell" style="left:1721.37px;top:488.70px;width:49.55px;height:100.34px;line-height:96.34px;background:#48a030">0.24</div><div class="cell" style="left:1770.92px;top:488.70px;width:49.55px;height:100.34px;line-height:96.34px;background:#971c13">3.75</div><div class="cell" style="left:1820.47px;top:488.70px;width:49.55px;height:100.34px;line-height:96.34px;background:#48a030">0.24</div>
<div class="cell" style="left:333.90px;top:589.04px;width:49.55px;height:100.34px;line-height:96.34px;background:#48a030">0.24</div><div class="cell" style="left:581.66px;top:589.04px;width:49.55px;height:100.34px;line-height:96.34px;background:#357a22">0.02</div><div class="cell" style="left:779.87px;top:589.04px;width:49.55px;height:100.34px;line-height:96.34px;background:#357a22">0.16</div><div class="cell" style="left:829.43px;top:589.04px;width:49.55px;height:100.34px;line-height:96.34px;background:#357a22">0.05</div><div class="cell" style="left:878.98px;top:589.04px;width:49.55px;height:100.34px;line-height:96.34px;background:#48a030">0.25</div><div class="cell" style="left:928.53px;top:589.04px;width:49.55px;height:100.34px;line-height:96.34px;background:#48a030">0.24</div><div class="cell" style="left:978.08px;top:589.04px;width:49.55px;height:100.34px;line-height:96.34px;background:#48a030">0.25</div><div class="cell" style="left:1027.63px;top:589.04px;width:49.55px;height:100.34px;line-height:96.34px;background:#48a030">0.24</div><div class="cell" style="left:1077.19px;top:589.04px;width:49.55px;height:100.34px;line-height:96.34px;background:#357a22">0.05</div><div class="cell" style="left:1126.74px;top:589.04px;width:49.55px;height:100.34px;line-height:96.34px;background:#48a030">0.25</div><div class="cell" style="left:1176.29px;top:589.04px;width:49.55px;height:100.34px;line-height:96.34px;background:#48a030">0.24</div><div class="cell" style="left:1225.84px;top:589.04px;width:49.55px;height:100.34px;line-height:96.34px;background:#48a030">0.25</div><div class="cell" style="left:1275.40px;top:589.04px;width:49.55px;height:100.34px;line-height:96.34px;background:#48a030">0.24</div><div class="cell" style="left:1324.95px;top:589.04px;width:49.55px;height:100.34px;line-height:96.34px;background:#48a030">0.24</div><div class="cell" style="left:1374.50px;top:589.04px;width:49.55px;height:100.34px;line-height:96.34px;background:#48a030">0.24</div><div class="cell" style="left:1424.05px;top:589.04px;width:49.55px;height:100.34px;line-height:96.34px;background:#55b93a">0.55</div><div class="cell" style="left:1473.61px;top:589.04px;width:49.55px;height:100.34px;line-height:96.34px;background:#357a22">0.05</div><div class="cell" style="left:1523.16px;top:589.04px;width:49.55px;height:100.34px;line-height:96.34px;background:#55b93a">0.55</div><div class="cell" style="left:1572.71px;top:589.04px;width:49.55px;height:100.34px;line-height:96.34px;background:#48a030">0.24</div><div class="cell" style="left:1622.26px;top:589.04px;width:49.55px;height:100.34px;line-height:96.34px;background:#48a030">0.24</div><div class="cell" style="left:1671.82px;top:589.04px;width:49.55px;height:100.34px;line-height:96.34px;background:#55b93a">0.55</div><div class="cell" style="left:1721.37px;top:589.04px;width:49.55px;height:100.34px;line-height:96.34px;background:#357a22">0.02</div><div class="cell" style="left:1770.92px;top:589.04px;width:49.55px;height:100.34px;line-height:96.34px;background:#55b93a">0.55</div><div class="cell" style="left:1820.47px;top:589.04px;width:49.55px;height:100.34px;line-height:96.34px;background:#357a22">0.02</div>
<div class="cell" style="left:482.56px;top:689.38px;width:49.55px;height:100.34px;line-height:96.34px;background:#b3241a">2.59</div><div class="cell" style="left:532.11px;top:689.38px;width:49.55px;height:100.34px;line-height:96.34px;background:#971c13">5.05</div><div class="cell" style="left:581.66px;top:689.38px;width:49.55px;height:100.34px;line-height:96.34px;background:#b3241a">2.59</div><div class="cell" style="left:631.22px;top:689.38px;width:49.55px;height:100.34px;line-height:96.34px;background:#971c13">5.05</div><div class="cell" style="left:730.32px;top:689.38px;width:49.55px;height:100.34px;line-height:96.34px;background:#b3241a">2.59</div><div class="cell" style="left:779.87px;top:689.38px;width:49.55px;height:100.34px;line-height:96.34px;background:#971c13">5.05</div><div class="cell" style="left:829.43px;top:689.38px;width:49.55px;height:100.34px;line-height:96.34px;background:#971c13">3.29</div><div class="cell" style="left:878.98px;top:689.38px;width:49.55px;height:100.34px;line-height:96.34px;background:#cd2b1e">1.65</div><div class="cell" style="left:928.53px;top:689.38px;width:49.55px;height:100.34px;line-height:96.34px;background:#971c13">3.29</div><div class="cell" style="left:978.08px;top:689.38px;width:49.55px;height:100.34px;line-height:96.34px;background:#cd2b1e">1.65</div><div class="cell" style="left:1027.63px;top:689.38px;width:49.55px;height:100.34px;line-height:96.34px;background:#971c13">5.05</div><div class="cell" style="left:1077.19px;top:689.38px;width:49.55px;height:100.34px;line-height:96.34px;background:#971c13">3.29</div><div class="cell" style="left:1126.74px;top:689.38px;width:49.55px;height:100.34px;line-height:96.34px;background:#55b93a">0.59</div><div class="cell" style="left:1176.29px;top:689.38px;width:49.55px;height:100.34px;line-height:96.34px;background:#971c13">3.29</div><div class="cell" style="left:1225.84px;top:689.38px;width:49.55px;height:100.34px;line-height:96.34px;background:#55b93a">0.59</div><div class="cell" style="left:1275.40px;top:689.38px;width:49.55px;height:100.34px;line-height:96.34px;background:#cd2b1e">1.65</div><div class="cell" style="left:1324.95px;top:689.38px;width:49.55px;height:100.34px;line-height:96.34px;background:#cd2b1e">1.65</div><div class="cell" style="left:1374.50px;top:689.38px;width:49.55px;height:100.34px;line-height:96.34px;background:#55b93a">0.59</div><div class="cell" style="left:1424.05px;top:689.38px;width:49.55px;height:100.34px;line-height:96.34px;background:#971c13">4.0</div><div class="cell" style="left:1473.61px;top:689.38px;width:49.55px;height:100.34px;line-height:96.34px;background:#55b93a">0.59</div><div class="cell" style="left:1523.16px;top:689.38px;width:49.55px;height:100.34px;line-height:96.34px;background:#971c13">4.0</div><div class="cell" style="left:1572.71px;top:689.38px;width:49.55px;height:100.34px;line-height:96.34px;background:#55b93a">0.59</div><div class="cell" style="left:1622.26px;top:689.38px;width:49.55px;height:100.34px;line-height:96.34px;background:#55b93a">0.59</div><div class="cell" style="left:1671.82px;top:689.38px;width:49.55px;height:100.34px;line-height:96.34px;background:#971c13">4.0</div><div class="cell" style="left:1721.37px;top:689.38px;width:49.55px;height:100.34px;line-height:96.34px;background:#55b93a">0.59</div><div class="cell" style="left:1770.92px;top:689.38px;width:49.55px;height:100.34px;line-height:96.34px;background:#971c13">4.0</div><div class="cell" style="left:1820.47px;top:689.38px;width:49.55px;height:100.34px;line-height:96.34px;background:#55b93a">0.59</div>
<div class="cell" style="left:1473.61px;top:789.72px;width:49.55px;height:100.34px;line-height:96.34px;background:#357a22">0.12</div>
<div class="abs" style="left:334.94px;top:187.68px;width:2px;height:702.39px;background:#6a6a6a"></div><div class="abs" style="left:333.90px;top:889.46px;width:1536.12px;height:1.8px;background:#606060"></div>
<div class="abs" style="left:328.90px;top:187.18px;width:5px;height:1px;background:#333"></div><div class="abs" style="left:328.90px;top:287.52px;width:5px;height:1px;background:#333"></div><div class="abs" style="left:328.90px;top:387.86px;width:5px;height:1px;background:#333"></div><div class="abs" style="left:328.90px;top:488.20px;width:5px;height:1px;background:#333"></div><div class="abs" style="left:328.90px;top:588.54px;width:5px;height:1px;background:#333"></div><div class="abs" style="left:328.90px;top:688.88px;width:5px;height:1px;background:#333"></div><div class="abs" style="left:328.90px;top:789.22px;width:5px;height:1px;background:#333"></div><div class="abs" style="left:328.90px;top:889.56px;width:5px;height:1px;background:#333"></div><div class="abs" style="left:333.40px;top:890.06px;width:1px;height:5px;background:#333"></div><div class="abs" style="left:382.95px;top:890.06px;width:1px;height:5px;background:#333"></div><div class="abs" style="left:432.51px;top:890.06px;width:1px;height:5px;background:#333"></div><div class="abs" style="left:482.06px;top:890.06px;width:1px;height:5px;background:#333"></div><div class="abs" style="left:531.61px;top:890.06px;width:1px;height:5px;background:#333"></div><div class="abs" style="left:581.16px;top:890.06px;width:1px;height:5px;background:#333"></div><div class="abs" style="left:630.72px;top:890.06px;width:1px;height:5px;background:#333"></div><div class="abs" style="left:680.27px;top:890.06px;width:1px;height:5px;background:#333"></div><div class="abs" style="left:729.82px;top:890.06px;width:1px;height:5px;background:#333"></div><div class="abs" style="left:779.37px;top:890.06px;width:1px;height:5px;background:#333"></div><div class="abs" style="left:828.93px;top:890.06px;width:1px;height:5px;background:#333"></div><div class="abs" style="left:878.48px;top:890.06px;width:1px;height:5px;background:#333"></div><div class="abs" style="left:928.03px;top:890.06px;width:1px;height:5px;background:#333"></div><div class="abs" style="left:977.58px;top:890.06px;width:1px;height:5px;background:#333"></div><div class="abs" style="left:1027.13px;top:890.06px;width:1px;height:5px;background:#333"></div><div class="abs" style="left:1076.69px;top:890.06px;width:1px;height:5px;background:#333"></div><div class="abs" style="left:1126.24px;top:890.06px;width:1px;height:5px;background:#333"></div><div class="abs" style="left:1175.79px;top:890.06px;width:1px;height:5px;background:#333"></div><div class="abs" style="left:1225.34px;top:890.06px;width:1px;height:5px;background:#333"></div><div class="abs" style="left:1274.90px;top:890.06px;width:1px;height:5px;background:#333"></div><div class="abs" style="left:1324.45px;top:890.06px;width:1px;height:5px;background:#333"></div><div class="abs" style="left:1374.00px;top:890.06px;width:1px;height:5px;background:#333"></div><div class="abs" style="left:1423.55px;top:890.06px;width:1px;height:5px;background:#333"></div><div class="abs" style="left:1473.11px;top:890.06px;width:1px;height:5px;background:#333"></div><div class="abs" style="left:1522.66px;top:890.06px;width:1px;height:5px;background:#333"></div><div class="abs" style="left:1572.21px;top:890.06px;width:1px;height:5px;background:#333"></div><div class="abs" style="left:1621.76px;top:890.06px;width:1px;height:5px;background:#333"></div><div class="abs" style="left:1671.32px;top:890.06px;width:1px;height:5px;background:#333"></div><div class="abs" style="left:1720.87px;top:890.06px;width:1px;height:5px;background:#333"></div><div class="abs" style="left:1770.42px;top:890.06px;width:1px;height:5px;background:#333"></div><div class="abs" style="left:1819.97px;top:890.06px;width:1px;height:5px;background:#333"></div><div class="abs" style="left:1869.53px;top:890.06px;width:1px;height:5px;background:#333"></div>
<div class="yl" style="left:206.90px;top:189.28px;line-height:100.34px;height:100.34px">印前</div><div class="yl" style="left:206.90px;top:289.62px;line-height:100.34px;height:100.34px">印后</div><div class="yl" style="left:206.90px;top:389.96px;line-height:100.34px;height:100.34px">表面处理</div><div class="yl" style="left:206.90px;top:490.30px;line-height:100.34px;height:100.34px">糊盒</div><div class="yl" style="left:206.90px;top:590.64px;line-height:100.34px;height:100.34px">手工(台)</div><div class="yl" style="left:206.90px;top:690.98px;line-height:100.34px;height:100.34px">装订</div><div class="yl" style="left:206.90px;top:791.32px;line-height:100.34px;height:100.34px">骑订</div>
<div class="xl" style="left:333.90px;top:897.06px;width:49.55px;line-height:14px">08/02</div><div class="xl" style="left:383.45px;top:897.06px;width:49.55px;line-height:14px">08/03</div><div class="xl" style="left:433.01px;top:897.06px;width:49.55px;line-height:14px">08/04</div><div class="xl" style="left:482.56px;top:897.06px;width:49.55px;line-height:14px">08/05</div><div class="xl" style="left:532.11px;top:897.06px;width:49.55px;line-height:14px">08/06</div><div class="xl" style="left:581.66px;top:897.06px;width:49.55px;line-height:14px">08/07</div><div class="xl" style="left:631.22px;top:897.06px;width:49.55px;line-height:14px">08/08</div><div class="xl" style="left:680.77px;top:897.06px;width:49.55px;line-height:14px">08/09</div><div class="xl" style="left:730.32px;top:897.06px;width:49.55px;line-height:14px">08/10</div><div class="xl" style="left:779.87px;top:897.06px;width:49.55px;line-height:14px">08/11</div><div class="xl" style="left:829.43px;top:897.06px;width:49.55px;line-height:14px">08/12</div><div class="xl" style="left:878.98px;top:897.06px;width:49.55px;line-height:14px">08/13</div><div class="xl" style="left:928.53px;top:897.06px;width:49.55px;line-height:14px">08/14</div><div class="xl" style="left:978.08px;top:897.06px;width:49.55px;line-height:14px">08/15</div><div class="xl" style="left:1027.63px;top:897.06px;width:49.55px;line-height:14px">08/16</div><div class="xl" style="left:1077.19px;top:897.06px;width:49.55px;line-height:14px">08/17</div><div class="xl" style="left:1126.74px;top:897.06px;width:49.55px;line-height:14px">08/18</div><div class="xl" style="left:1176.29px;top:897.06px;width:49.55px;line-height:14px">08/19</div><div class="xl" style="left:1225.84px;top:897.06px;width:49.55px;line-height:14px">08/20</div><div class="xl" style="left:1275.40px;top:897.06px;width:49.55px;line-height:14px">08/21</div><div class="xl" style="left:1324.95px;top:897.06px;width:49.55px;line-height:14px">08/22</div><div class="xl" style="left:1374.50px;top:897.06px;width:49.55px;line-height:14px">08/23</div><div class="xl" style="left:1424.05px;top:897.06px;width:49.55px;line-height:14px">08/24</div><div class="xl" style="left:1473.61px;top:897.06px;width:49.55px;line-height:14px">08/25</div><div class="xl" style="left:1523.16px;top:897.06px;width:49.55px;line-height:14px">08/26</div><div class="xl" style="left:1572.71px;top:897.06px;width:49.55px;line-height:14px">08/27</div><div class="xl" style="left:1622.26px;top:897.06px;width:49.55px;line-height:14px">08/28</div><div class="xl" style="left:1671.82px;top:897.06px;width:49.55px;line-height:14px">08/29</div><div class="xl" style="left:1721.37px;top:897.06px;width:49.55px;line-height:14px">08/30</div><div class="xl" style="left:1770.92px;top:897.06px;width:49.55px;line-height:14px">08/31</div><div class="xl" style="left:1820.47px;top:897.06px;width:49.55px;line-height:14px">09/01</div>
<div class="lg" style="left:741.4px;top:941.4px;background:#808080"></div><svg class="abs" style="left:771.9px;top:941.4px;overflow:visible" width="5.3" height="14"><text x="0" y="11" font-size="12" fill="#555" textLength="5.3" lengthAdjust="spacingAndGlyphs" font-family="Liberation Sans, sans-serif">0</text></svg><div class="lg" style="left:788.7px;top:941.4px;background:#357a22"></div><svg class="abs" style="left:819.2px;top:941.4px;overflow:visible" width="45.8" height="14"><text x="0" y="11" font-size="12" fill="#555" textLength="45.8" lengthAdjust="spacingAndGlyphs" font-family="Liberation Sans, sans-serif">0.1 - 0.2</text></svg><div class="lg" style="left:875.4px;top:941.4px;background:#48a030"></div><svg class="abs" style="left:905.4px;top:941.4px;overflow:visible" width="39.4" height="14"><text x="0" y="11" font-size="12" fill="#555" textLength="39.4" lengthAdjust="spacingAndGlyphs" font-family="Liberation Sans, sans-serif">0.2 - 0.4</text></svg><div class="lg" style="left:955.0px;top:941.4px;background:#55b93a"></div><svg class="abs" style="left:984.8px;top:941.4px;overflow:visible" width="37.9" height="14"><text x="0" y="11" font-size="12" fill="#555" textLength="37.9" lengthAdjust="spacingAndGlyphs" font-family="Liberation Sans, sans-serif">0.4 - 0.6</text></svg><div class="lg" style="left:1034.4px;top:941.4px;background:#66dd44"></div><svg class="abs" style="left:1064.9px;top:941.4px;overflow:visible" width="38.4" height="14"><text x="0" y="11" font-size="12" fill="#555" textLength="38.4" lengthAdjust="spacingAndGlyphs" font-family="Liberation Sans, sans-serif">0.6 - 0.8</text></svg><div class="lg" style="left:1113.2px;top:941.4px;background:#d8a43a"></div><svg class="abs" style="left:1142.2px;top:941.4px;overflow:visible" width="29.0" height="14"><text x="0" y="11" font-size="12" fill="#555" textLength="29.0" lengthAdjust="spacingAndGlyphs" font-family="Liberation Sans, sans-serif">0.8 - 1</text></svg><div class="lg" style="left:1181.6px;top:941.4px;background:#cd2b1e"></div><svg class="abs" style="left:1213.2px;top:941.4px;overflow:visible" width="18.3" height="14"><text x="0" y="11" font-size="12" fill="#555" textLength="18.3" lengthAdjust="spacingAndGlyphs" font-family="Liberation Sans, sans-serif">1 - 2</text></svg><div class="lg" style="left:1241.1px;top:941.4px;background:#b3241a"></div><svg class="abs" style="left:1271.1px;top:941.4px;overflow:visible" width="18.3" height="14"><text x="0" y="11" font-size="12" fill="#555" textLength="18.3" lengthAdjust="spacingAndGlyphs" font-family="Liberation Sans, sans-serif">2 - 3</text></svg><div class="lg" style="left:1300.9px;top:941.4px;background:#971c13"></div><svg class="abs" style="left:1331.4px;top:941.4px;overflow:visible" width="51.1" height="14"><text x="0" y="11" font-size="12" fill="#555" textLength="51.1" lengthAdjust="spacingAndGlyphs" font-family="Liberation Sans, sans-serif">3 - Infinity</text></svg>
</div>
<div class="abs" style="left:210.9px;top:1031.1px;font-size:11px;color:#808080;white-space:nowrap;line-height:14px">©印刷数字</div>
</div>
</div>
</body></html>
